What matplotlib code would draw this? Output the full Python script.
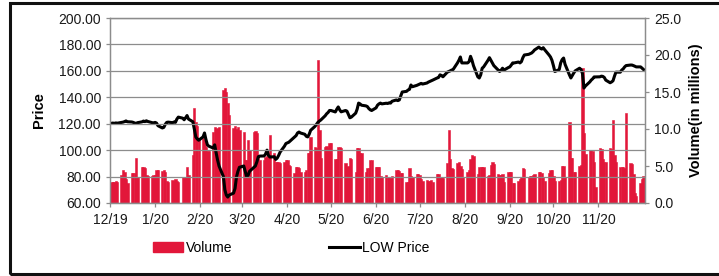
import matplotlib
matplotlib.use("Agg")
import matplotlib.pyplot as plt
import matplotlib.dates as mdates
from matplotlib.patches import Rectangle
from matplotlib.lines import Line2D
from matplotlib.patches import Patch
import pandas as pd

plt.rcParams['font.family'] = ['Liberation Sans', 'DejaVu Sans']

# daily LOW price, one list per month (trading days)
price_dec19 = [120.3, 120.5, 120.2, 120.6, 120.4, 121.0, 121.2, 121.6, 122.1, 121.5,
               121.3, 121.0, 120.5, 120.2, 120.8, 121.4, 122.0, 121.6, 122.2, 121.7,
               120.8, 120.4]
price_jan20 = [121.0, 120.5, 118.5, 116.8, 117.2, 119.5, 121.0, 121.2, 120.8, 121.3,
               121.0, 123.5, 125.0, 124.2, 123.0, 124.5, 126.2, 123.5, 121.5, 116.0,
               110.0, 108.5, 107.5]
price_feb20 = [110.0, 113.0, 108.0, 104.0, 103.0, 101.6, 104.0, 98.0, 92.5, 88.0,
               80.0, 70.0, 66.0, 64.5, 66.0, 67.5, 71.0, 79.7, 84.0, 87.0]
price_mar20 = [88.0, 84.0, 80.0, 81.0, 84.0, 87.0, 88.0, 91.0, 95.0, 95.5,
               95.6, 97.0, 100.0, 96.0, 94.8, 95.0, 93.0, 94.0, 96.0, 98.5,
               103.0, 105.0]
price_apr20 = [105.5, 106.0, 107.0, 110.0, 111.0, 113.0, 113.7, 113.0, 112.0, 110.5,
               110.0, 112.0, 115.0, 118.0, 119.5, 121.0, 122.0, 122.8, 126.0, 127.5,
               128.5, 130.0]
price_may20 = [130.0, 128.9, 131.0, 132.7, 130.5, 129.0, 130.0, 129.5, 127.0, 124.5,
               125.0, 128.0, 131.0, 135.6, 135.0, 134.0, 133.5, 133.0, 131.5, 130.5,
               130.0]
price_jun20 = [132.0, 134.0, 135.0, 135.6, 135.0, 135.5, 135.3, 135.8, 135.6, 137.0,
               138.0, 137.5, 138.0, 141.0, 144.0, 144.5, 145.5, 146.0, 149.3, 148.0,
               149.0, 149.5]
price_jul20 = [150.0, 150.5, 150.0, 150.8, 151.5, 152.0, 152.5, 153.0, 154.6, 155.0,
               157.0, 156.5, 155.5, 159.0, 159.5, 160.0, 160.6, 161.0, 166.0, 168.0,
               170.5, 166.0, 166.0]
price_aug20 = [166.0, 167.0, 171.0, 168.0, 164.0, 155.5, 154.6, 157.0, 162.0, 163.0,
               168.0, 170.0, 168.0, 166.0, 164.0, 160.6, 159.5, 160.5, 162.0, 160.6,
               162.5]
price_sep20 = [163.0, 164.4, 166.0, 166.0, 166.7, 166.0, 167.0, 170.0, 172.0, 172.5,
               173.0, 173.5, 174.5, 175.8, 178.0, 177.0, 176.5, 177.5, 176.0, 172.0,
               170.5, 168.0]
price_oct20 = [164.0, 159.5, 161.0, 166.0, 168.5, 169.7, 165.0, 157.0, 154.6, 156.5,
               158.4, 160.0, 162.0, 161.0, 158.0, 147.0, 148.5, 151.6, 153.0, 154.0,
               155.4, 155.4]
price_nov20 = [155.5, 156.0, 155.8, 155.0, 153.0, 151.0, 151.6, 152.5, 156.0, 159.0,
               159.0, 160.6, 161.5, 163.0, 164.0, 164.4, 164.4, 164.0, 163.5, 163.0,
               163.0]
price_dec20 = [162.0, 161.0]

# daily volume (in millions)
vol_dec19 = [2.8, 2.9, 2.9, 3.0, 2.9, 3.8, 4.5, 4.2, 3.3, 2.7,
             4.0, 4.1, 4.0, 6.1, 3.5, 4.8, 4.9, 4.7, 3.8, 3.7,
             3.6, 3.8]
vol_jan20 = [3.8, 4.5, 4.4, 4.3, 4.4, 4.2, 3.0, 2.9, 3.1, 3.0,
             3.2, 3.0, 2.8, 3.5, 3.4, 3.5, 4.9, 3.8, 6.5, 12.8,
             11.0, 10.4, 8.8]
vol_feb20 = [8.8, 8.5, 7.6, 7.0, 7.0, 9.6, 10.3, 10.0, 10.1, 10.3,
             15.3, 15.5, 15.0, 13.5, 11.9, 10.2, 10.4, 10.0, 10.3, 9.8]
vol_mar20 = [9.6, 5.8, 5.8, 8.5, 7.2, 9.6, 9.7, 9.5, 6.1, 5.8,
             5.8, 6.2, 6.3, 6.2, 9.2, 6.7, 5.5, 5.6, 5.5, 5.4,
             5.5, 5.8]
vol_apr20 = [5.8, 5.2, 5.0, 4.0, 4.8, 4.8, 4.7, 4.2, 4.2, 4.4,
             6.7, 6.8, 8.9, 7.6, 7.5, 19.3, 9.9, 6.1, 7.6, 7.7,
             7.5, 8.1]
vol_may20 = [8.1, 6.0, 6.0, 7.6, 7.6, 7.4, 5.4, 4.9, 5.0, 6.1,
             6.0, 4.2, 7.4, 7.4, 6.7, 6.7, 4.2, 4.7, 4.7, 5.8,
             5.8]
vol_jun20 = [4.9, 4.9, 4.8, 3.6, 3.5, 3.8, 3.5, 3.5, 3.4, 3.6,
             4.5, 4.4, 4.3, 4.0, 4.0, 2.9, 2.9, 4.7, 3.6, 3.5,
             3.9, 3.9]
vol_jul20 = [3.8, 3.2, 3.0, 3.1, 3.0, 3.0, 3.1, 2.9, 3.9, 3.9,
             3.5, 3.5, 3.4, 5.4, 9.9, 5.9, 4.7, 4.6, 5.4, 5.6,
             5.0, 4.6, 3.5]
vol_aug20 = [4.2, 4.4, 6.0, 6.5, 6.4, 3.9, 4.9, 4.8, 4.9, 4.8,
             3.7, 3.8, 5.2, 5.5, 5.3, 3.9, 3.8, 3.8, 3.9, 2.9,
             4.2]
vol_sep20 = [4.2, 4.2, 2.7, 2.7, 3.0, 3.2, 3.5, 4.7, 4.6, 3.5,
             3.6, 3.7, 3.8, 3.9, 4.2, 4.2, 4.0, 3.5, 3.0, 4.0,
             4.4, 4.5]
vol_oct20 = [3.6, 3.0, 3.0, 3.1, 5.0, 5.0, 3.5, 10.9, 6.1, 6.1,
             4.2, 4.2, 5.0, 5.2, 18.2, 9.4, 6.6, 7.2, 7.2, 7.0,
             5.5, 2.2]
vol_nov20 = [7.4, 7.3, 6.0, 5.6, 5.5, 7.4, 7.3, 11.2, 6.5, 5.5,
             4.9, 4.9, 4.8, 4.7, 12.1, 5.4, 5.3, 3.9, 1.4, 1.0,
             2.7]
vol_dec20 = [3.2, 3.6]

price = (price_dec19 + price_jan20 + price_feb20 + price_mar20 + price_apr20 +
         price_may20 + price_jun20 + price_jul20 + price_aug20 + price_sep20 +
         price_oct20 + price_nov20 + price_dec20)
volume = (vol_dec19 + vol_jan20 + vol_feb20 + vol_mar20 + vol_apr20 +
          vol_may20 + vol_jun20 + vol_jul20 + vol_aug20 + vol_sep20 +
          vol_oct20 + vol_nov20 + vol_dec20)
dates = pd.bdate_range("2019-12-02", "2020-12-02")
assert len(dates) == len(price) == len(volume)

red = '#E2173A'
grey = '#8C8C8C'

fig = plt.figure(figsize=(7.19, 2.76), dpi=100)
ax = fig.add_axes([110/719, 1-203/276, 535/719, 185/276])
ax2 = ax.twinx()

ax2.bar(dates, volume, width=1.6, color=red, edgecolor=red, linewidth=0.4)
ax.plot(dates, price, color='black', lw=2.2, solid_joinstyle='round')

ax.set_zorder(ax2.get_zorder() + 1)
ax.patch.set_visible(False)

ax.set_xlim(pd.Timestamp("2019-12-01"), pd.Timestamp("2020-12-03"))
ax.set_ylim(60, 200)
ax2.set_ylim(0, 25)
ax.set_yticks(range(60, 201, 20))
ax2.set_yticks([0, 5, 10, 15, 20, 25])
ax.yaxis.set_major_formatter(plt.FuncFormatter(lambda v, p: f"{v:.2f}"))
ax2.yaxis.set_major_formatter(plt.FuncFormatter(lambda v, p: f"{v:.1f}"))

ax.xaxis.set_major_locator(mdates.MonthLocator())
ax.xaxis.set_major_formatter(plt.FuncFormatter(
    lambda v, p: f"{mdates.num2date(v).month}/{mdates.num2date(v):%y}"))
ax.set_xticks(ax.get_xticks()[ax.get_xticks() < mdates.date2num(pd.Timestamp("2020-11-15"))])

ax.grid(axis='y', color=grey, lw=0.9)
ax.set_axisbelow(False)
for a in (ax, ax2):
    for s in a.spines.values():
        s.set_color(grey)
        s.set_linewidth(0.9)
    a.tick_params(colors=grey, labelcolor='#1a1a1a', labelsize=10, length=3, width=0.9)
ax.tick_params(axis='x', pad=4)

ax.set_ylabel("Price", fontsize=10.5, fontweight='bold', labelpad=9)
ax2.set_ylabel("Volume(in millions)", fontsize=10.5, fontweight='bold', labelpad=6)

handles = [Patch(color=red, label='Volume'),
           Line2D([], [], color='black', lw=2.2, label='LOW Price')]
fig.legend(handles=handles, ncol=2, frameon=False, loc='center',
           bbox_to_anchor=(291/719, 1-248/276), fontsize=10,
           handlelength=2.2, handletextpad=0.15, columnspacing=7.0)

# outer frame
fig.add_artist(Rectangle((9.5/719, 2.5/276), 730/719, 271/276, transform=fig.transFigure,
                         fill=False, lw=2.2, edgecolor='#111111'))

fig.savefig("out.png", dpi=100)
